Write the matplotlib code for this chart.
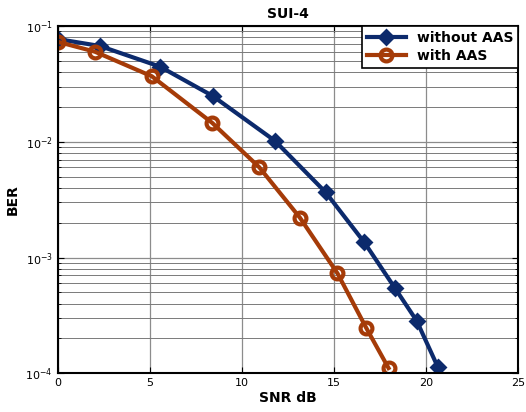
import numpy as np
import matplotlib
matplotlib.use("Agg")
import matplotlib.pyplot as plt
from matplotlib.ticker import LogLocator, NullFormatter

# SNR (dB) and BER
snr_without = [0.0, 2.3, 5.56, 8.42, 11.8, 14.55, 16.66, 18.3, 19.5, 20.64]
ber_without = [0.0772, 0.0672, 0.0446, 0.0249, 0.0102, 0.00367, 0.00135, 0.00055, 0.000284, 0.000114]

snr_with = [0.0, 2.03, 5.12, 8.39, 10.95, 13.16, 15.2, 16.77, 17.97]
ber_with = [0.0731, 0.060, 0.0368, 0.0146, 0.00603, 0.00221, 0.00073, 0.000245, 0.000111]

navy = '#0c2a6c'
rust = '#a53b08'

fig = plt.figure(figsize=(5.26, 4.12), dpi=100)
ax = fig.add_axes([57.5/526, 1 - 373.3/412, (518 - 57.5)/526, (373.3 - 26)/412])

ax.semilogy(snr_without, ber_without, '-D', color=navy, lw=3, ms=7.5,
            mfc=navy, mec=navy, mew=2, label='without AAS')
ax.semilogy(snr_with, ber_with, '-o', color=rust, lw=3, ms=8.5,
            mfc='none', mec=rust, mew=3, label='with AAS')

ax.set_xlim(0, 25)
ax.set_ylim(1e-4, 1e-1)
ax.set_xticks([0, 5, 10, 15, 20, 25])
ax.yaxis.set_major_locator(LogLocator(base=10, numticks=10))
ax.yaxis.set_minor_locator(LogLocator(base=10, subs=np.arange(2, 10), numticks=10))
ax.yaxis.set_minor_formatter(NullFormatter())

ax.grid(True, which='major', axis='both', color='#8c8c8c', lw=0.9)
ax.grid(True, which='minor', axis='y', color='#7a7a7a', lw=0.7)

ax.tick_params(which='both', direction='in', top=True, right=True, labelsize=8)
ax.tick_params(which='major', length=4)
ax.tick_params(which='minor', length=2)
for s in ax.spines.values():
    s.set_linewidth(1.5)

ax.set_title('SUI-4', fontsize=10, fontweight='bold', pad=6)
ax.set_xlabel('SNR dB', fontsize=10, fontweight='bold', labelpad=2)
ax.set_ylabel('BER', fontsize=10, fontweight='bold', labelpad=4)

leg = ax.legend(loc='upper right', prop={'weight': 'bold', 'size': 10},
                fancybox=False, edgecolor='black', framealpha=1,
                borderaxespad=0.0, handlelength=2.8, borderpad=0.35, labelspacing=0.3)
leg.get_frame().set_linewidth(1.2)

fig.savefig('out.png', dpi=100)
